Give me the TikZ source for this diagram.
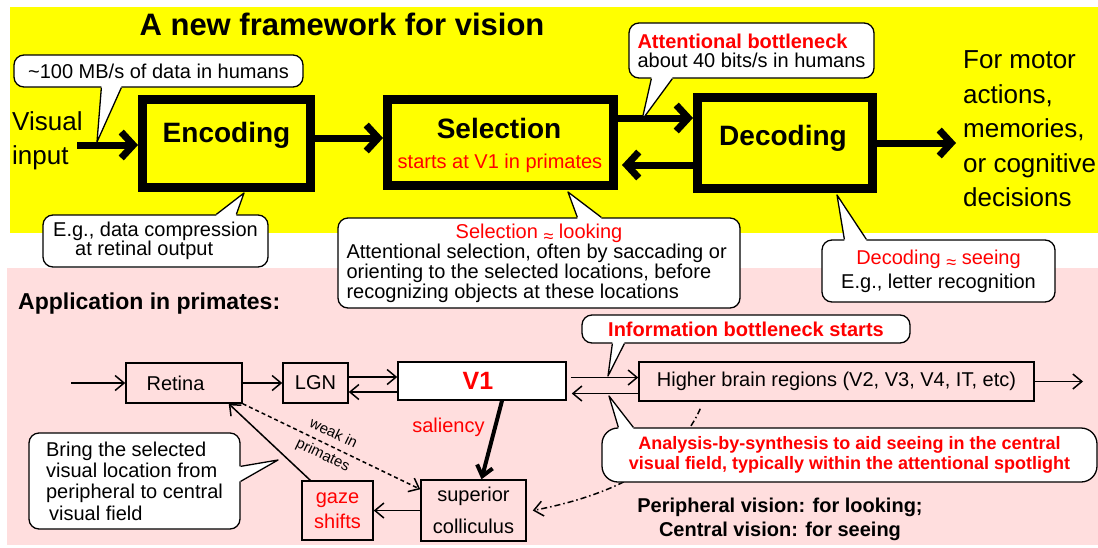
\documentclass[tikz,border=0pt]{standalone}
\usepackage{fontspec}
\setmainfont{Liberation Sans}
\usetikzlibrary{arrows.meta,calc}

\definecolor{slideyellow}{RGB}{255,255,0}
\definecolor{slidepink}{RGB}{255,222,222}
\definecolor{slidered}{RGB}{255,0,0}

\newcommand{\fsz}[2]{\fontsize{#1}{#2}\selectfont}
\newcommand{\aprx}{\raisebox{-4pt}{\fsz{18}{18}≈}}
% tail of a callout: corner of the bubble, two offsets of the base, tip, inward shift
\newcommand{\bubbletail}[5]{%
  \fill[white] ($(#1)+(#2)+(#5)$) -- ($(#1)+(#2)$) -- (#4) -- ($(#1)+(#3)$) -- ($(#1)+(#3)+(#5)$) -- cycle;
  \draw[bubble line] ($(#1)+(#2)$) -- (#4) -- ($(#1)+(#3)$);
}

\tikzset{
  stage/.style={draw, line width=9pt},
  bigarrow/.style={line width=7pt, -{Straight Barb[length=12pt,width=26pt]}},
  region/.style={draw, line width=1.5pt},
  thinarrow/.style={line width=1.5pt, -{Straight Barb[length=9pt,width=15pt]}},
  bubble/.style={draw, line width=1.3pt, fill=white, rounded corners=10pt},
  bubble line/.style={line width=1.3pt, line join=round},
}

\begin{document}
\begin{tikzpicture}[x={(1pt,0pt)}, y={(0pt,-1pt)}, inner sep=0pt]
  \useasboundingbox (0,0) rectangle (1098,547);
  % Backgrounds
  \fill[slideyellow] (10,7) rectangle (1098,233);
  \fill[slidepink] (7,268) rectangle (1098,545);

  % Framework
  \node[anchor=base, font=\bfseries\fsz{31}{31}] (title) at (342,35) {A new framework for vision};
  \node[stage, minimum width=168pt, minimum height=88pt] (enc) at (226.5,143.5) {};
  \node[stage, minimum width=226pt, minimum height=86pt] (sel) at (500.5,142.5) {};
  \node[stage, minimum width=175pt, minimum height=91pt] (dec) at (785,143) {};
  \node[anchor=base, font=\bfseries\fsz{28}{28}] (enclabel) at (226.5,142) {Encoding};
  \node[anchor=base, font=\bfseries\fsz{28}{28}] (sellabel) at (499,138) {Selection};
  \node[anchor=base, text=slidered, font=\fsz{20}{20}] (selnote) at (500,168) {starts at V1 in primates};
  \node[anchor=base, font=\bfseries\fsz{28}{28}] (declabel) at (783,145) {Decoding};
  \node[anchor=west, align=left, font=\fsz{26}{34}] (vis) at (12,141) {Visual\\input};
  \node[anchor=west, align=left, font=\fsz{26}{34.5}] (use) at (963,129) {For motor\\actions,\\memories,\\or cognitive\\decisions};

  \coordinate (vin) at (77,145);
  \coordinate (vout) at (956,145);
  \draw[bigarrow] (vin) -- (vin -| enc.west);
  \draw[bigarrow] ([yshift=5.5pt]enc.east) -- ([yshift=5.5pt]enc.east -| sel.west);
  \draw[bigarrow] ([yshift=24.5pt]sel.east) -- ([yshift=24.5pt]sel.east -| dec.west);
  \draw[bigarrow, shorten >=4pt] ([yshift=-22.5pt]sel.east -| dec.west) -- ([yshift=-22.5pt]sel.east);
  \draw[bigarrow] (dec.east) -- (dec.east -| vout);

  % Callouts
  \node[bubble, minimum width=289pt, minimum height=32pt, font=\fsz{20}{20}] (bmb) at (158.5,71) {\textasciitilde100 MB/s of data in humans};
  \bubbletail{bmb.south west}{88,0}{108,0}{97,142}{0,-2}
  \node[bubble, minimum width=245pt, minimum height=55pt, align=left, font=\fsz{20}{19}] (batt) at (751.5,50.5) {\textcolor{slidered}{\bfseries Attentional bottleneck}\\about 40 bits/s in humans};
  \bubbletail{batt.south west}{23,0}{44,0}{642,120}{0,-2}
  \node[bubble, minimum width=225pt, minimum height=52pt, align=left, font=\fsz{20}{19}] (benc) at (155.5,241) {E.g., data compression\\\hspace*{22pt}at retinal output};
  \bubbletail{benc.north west}{174,0}{194,0}{244,193}{0,2}
  \node[bubble, minimum width=402pt, minimum height=90pt, align=left, font=\fsz{20}{20}] (bsel) at (539,263) {\makebox[385pt]{\color{slidered}Selection \aprx{} looking}\\Attentional selection, often by saccading or\\orienting to the selected locations, before\\recognizing objects at these locations};
  \bubbletail{bsel.north west}{240,0}{264,0}{568,192}{0,2}
  \node[bubble, minimum width=233pt, minimum height=62pt, align=center, font=\fsz{20}{24}] (bdec) at (938.5,271) {\textcolor{slidered}{Decoding \aprx{} seeing}\\E.g., letter recognition};
  \bubbletail{bdec.north west}{23,0}{45,0}{837,195}{0,2}

  % Application in primates
  \node[anchor=base west, font=\bfseries\fsz{23}{23}] (app) at (18,309) {Application in primates:};
  \node[region, minimum width=116pt, minimum height=40pt, font=\fsz{20}{20}] (ret) at (184,383) {Retina\hspace*{17pt}};
  \node[region, minimum width=65pt, minimum height=40pt, font=\fsz{20}{20}] (lgn) at (315.5,383) {LGN};
  \node[region, fill=white, minimum width=168pt, minimum height=38pt, text=slidered, font=\bfseries\fsz{25}{25}] (v1) at (482,381) {V1\hspace*{8pt}};
  \node[region, minimum width=395pt, minimum height=39pt, font=\fsz{20}{20}] (hi) at (836.5,381.5) {Higher brain regions (V2, V3, V4, IT, etc)};
  \node[region, minimum width=105pt, minimum height=61pt, align=center, font=\fsz{20}{32}] (sc) at (473.5,510.5) {superior\\colliculus};
  \node[region, minimum width=71pt, minimum height=59pt, align=center, text=slidered, font=\fsz{20}{25}] (gaze) at (337.5,510.5) {gaze\\shifts};
  \node[text=slidered, font=\fsz{20}{20}] (sal) at (448.5,427) {saliency};
  \node[align=center, font=\bfseries\fsz{20}{24}] (views) at (780,519) {Peripheral vision: for looking;\\Central vision: for seeing};

  \coordinate (rin) at (71,383);
  \coordinate (hout) at (1083,382);
  \draw[thinarrow] (rin) -- (ret.west);
  \draw[thinarrow] ([xshift=-2pt]ret.east) -- (lgn.west);
  \draw[thinarrow] ([yshift=6pt]lgn.east) -- ([yshift=6pt]lgn.east -| v1.west);
  \draw[thinarrow] ([yshift=-9pt]lgn.east -| v1.west) -- ([yshift=-9pt]lgn.east);
  \draw[thinarrow, shorten <=4pt] ([yshift=3.5pt]v1.east) -- ([yshift=3.5pt]v1.east -| hi.west);
  \draw[thinarrow, shorten >=5pt] ([yshift=-12.5pt]v1.east -| hi.west) -- ([yshift=-12.5pt]v1.east);
  \draw[thinarrow] (hi.east) -- (hi.east -| hout);
  \draw[line width=4pt, -{Straight Barb[length=10pt,width=16pt]}] ([xshift=20pt]v1.south) -- ([xshift=8pt]sc.north);
  \draw[thinarrow] (sc.west) -- (gaze.east);
  \draw[thinarrow] ([xshift=9pt]gaze.north west) -- ([xshift=-14pt]ret.south east);
  \draw[thinarrow, dash pattern=on 4pt off 3pt] (ret.south east) -- ([yshift=-10pt]sc.north west)
    node[pos=0.48, sloped, align=center, font=\fsz{15}{24}] (weak) {weak in\\primates};
  \draw[thinarrow, dash pattern=on 6pt off 3pt on 1.5pt off 3pt] ($(hi.south west)+(62,7)$) .. controls (674,468) and (604,497) .. ($(sc.east)+(6,0)$);

  % Callouts
  \node[bubble, minimum width=328pt, minimum height=28pt, text=slidered, font=\bfseries\fsz{20}{20}] (binfo) at (746,329) {Information bottleneck starts};
  \bubbletail{binfo.south west}{31,0}{43,0}{608,376}{0,-2}
  \node[bubble, rounded corners=16pt, minimum width=495pt, minimum height=54pt, align=center, text=slidered, font=\bfseries\fsz{18}{20}] (bana) at (849.5,455) {Analysis-by-synthesis to aid seeing in the central\\visual field, typically within the attentional spotlight};
  \bubbletail{bana.north west}{17,0}{32,0}{609,396}{0,2}
  \node[bubble, minimum width=211pt, minimum height=96pt, align=left, font=\fsz{20}{21.3}] (bbring) at (134.5,481) {Bring the selected\\visual location from\\peripheral to central\\\hspace*{3pt}visual field};
  \bubbletail{bbring.north east}{0,34}{0,49}{278,460}{-2,0}
\end{tikzpicture}
\end{document}
